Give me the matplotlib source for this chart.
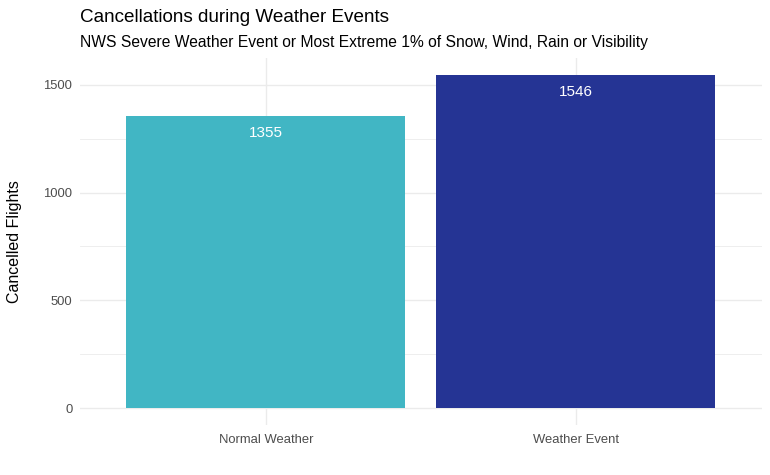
import numpy as np
import matplotlib.pyplot as plt

plt.rcParams['font.family'] = ['Liberation Sans', 'DejaVu Sans']

# data
categories = ["Normal Weather", "Weather Event"]
cancelled = [1355, 1546]
bar_colors = ["#41B6C4", "#253494"]
yticks = [0, 500, 1000, 1500]

fig = plt.figure(figsize=(7.7, 4.75), dpi=100)
ax = fig.add_axes([80/770, 50/475, 681.5/770, 367/475])

x = np.arange(1, len(categories) + 1)
ax.bar(x, cancelled, width=0.9, color=bar_colors, zorder=2)
for xi, v in zip(x, cancelled):
    ax.annotate(str(v), (xi, v), xytext=(0, -7.5), textcoords="offset points",
                ha="center", va="top", color="white", fontsize=11, zorder=3)

top = max(cancelled) * 1.05
ax.set_ylim(-max(cancelled) * 0.05, top)
ax.set_xlim(0.4, 2.6)

# ggplot minimal style grid
grid_col = "#EBEBEB"
for y in yticks:
    ax.axhline(y, color=grid_col, lw=1.0, zorder=0)
for y in [250, 750, 1250]:
    ax.axhline(y, color=grid_col, lw=0.6, zorder=0)
for xi in x:
    ax.axvline(xi, color=grid_col, lw=1.0, zorder=0)

ax.set_xticks(x)
ax.set_xticklabels(categories)
ax.set_yticks(yticks)
ax.tick_params(length=0, labelsize=9.4, labelcolor="#4D4D4D")
ax.tick_params(axis="y", pad=5.5)
ax.tick_params(axis="x", pad=6.5)
for s in ax.spines.values():
    s.set_visible(False)

fig.text(14.5/770, 1 - 242/475, "Cancelled Flights", fontsize=11.5,
         rotation=90, va="center", ha="center")
fig.text(80/770, 1 - 17/475, "Cancellations during Weather Events",
         fontsize=13.6, va="center", ha="left")
fig.text(80/770, 1 - 43/475,
         "NWS Severe Weather Event or Most Extreme 1% of Snow, Wind, Rain or Visibility",
         fontsize=11.25, va="center", ha="left")

fig.savefig("out.png", dpi=100)
